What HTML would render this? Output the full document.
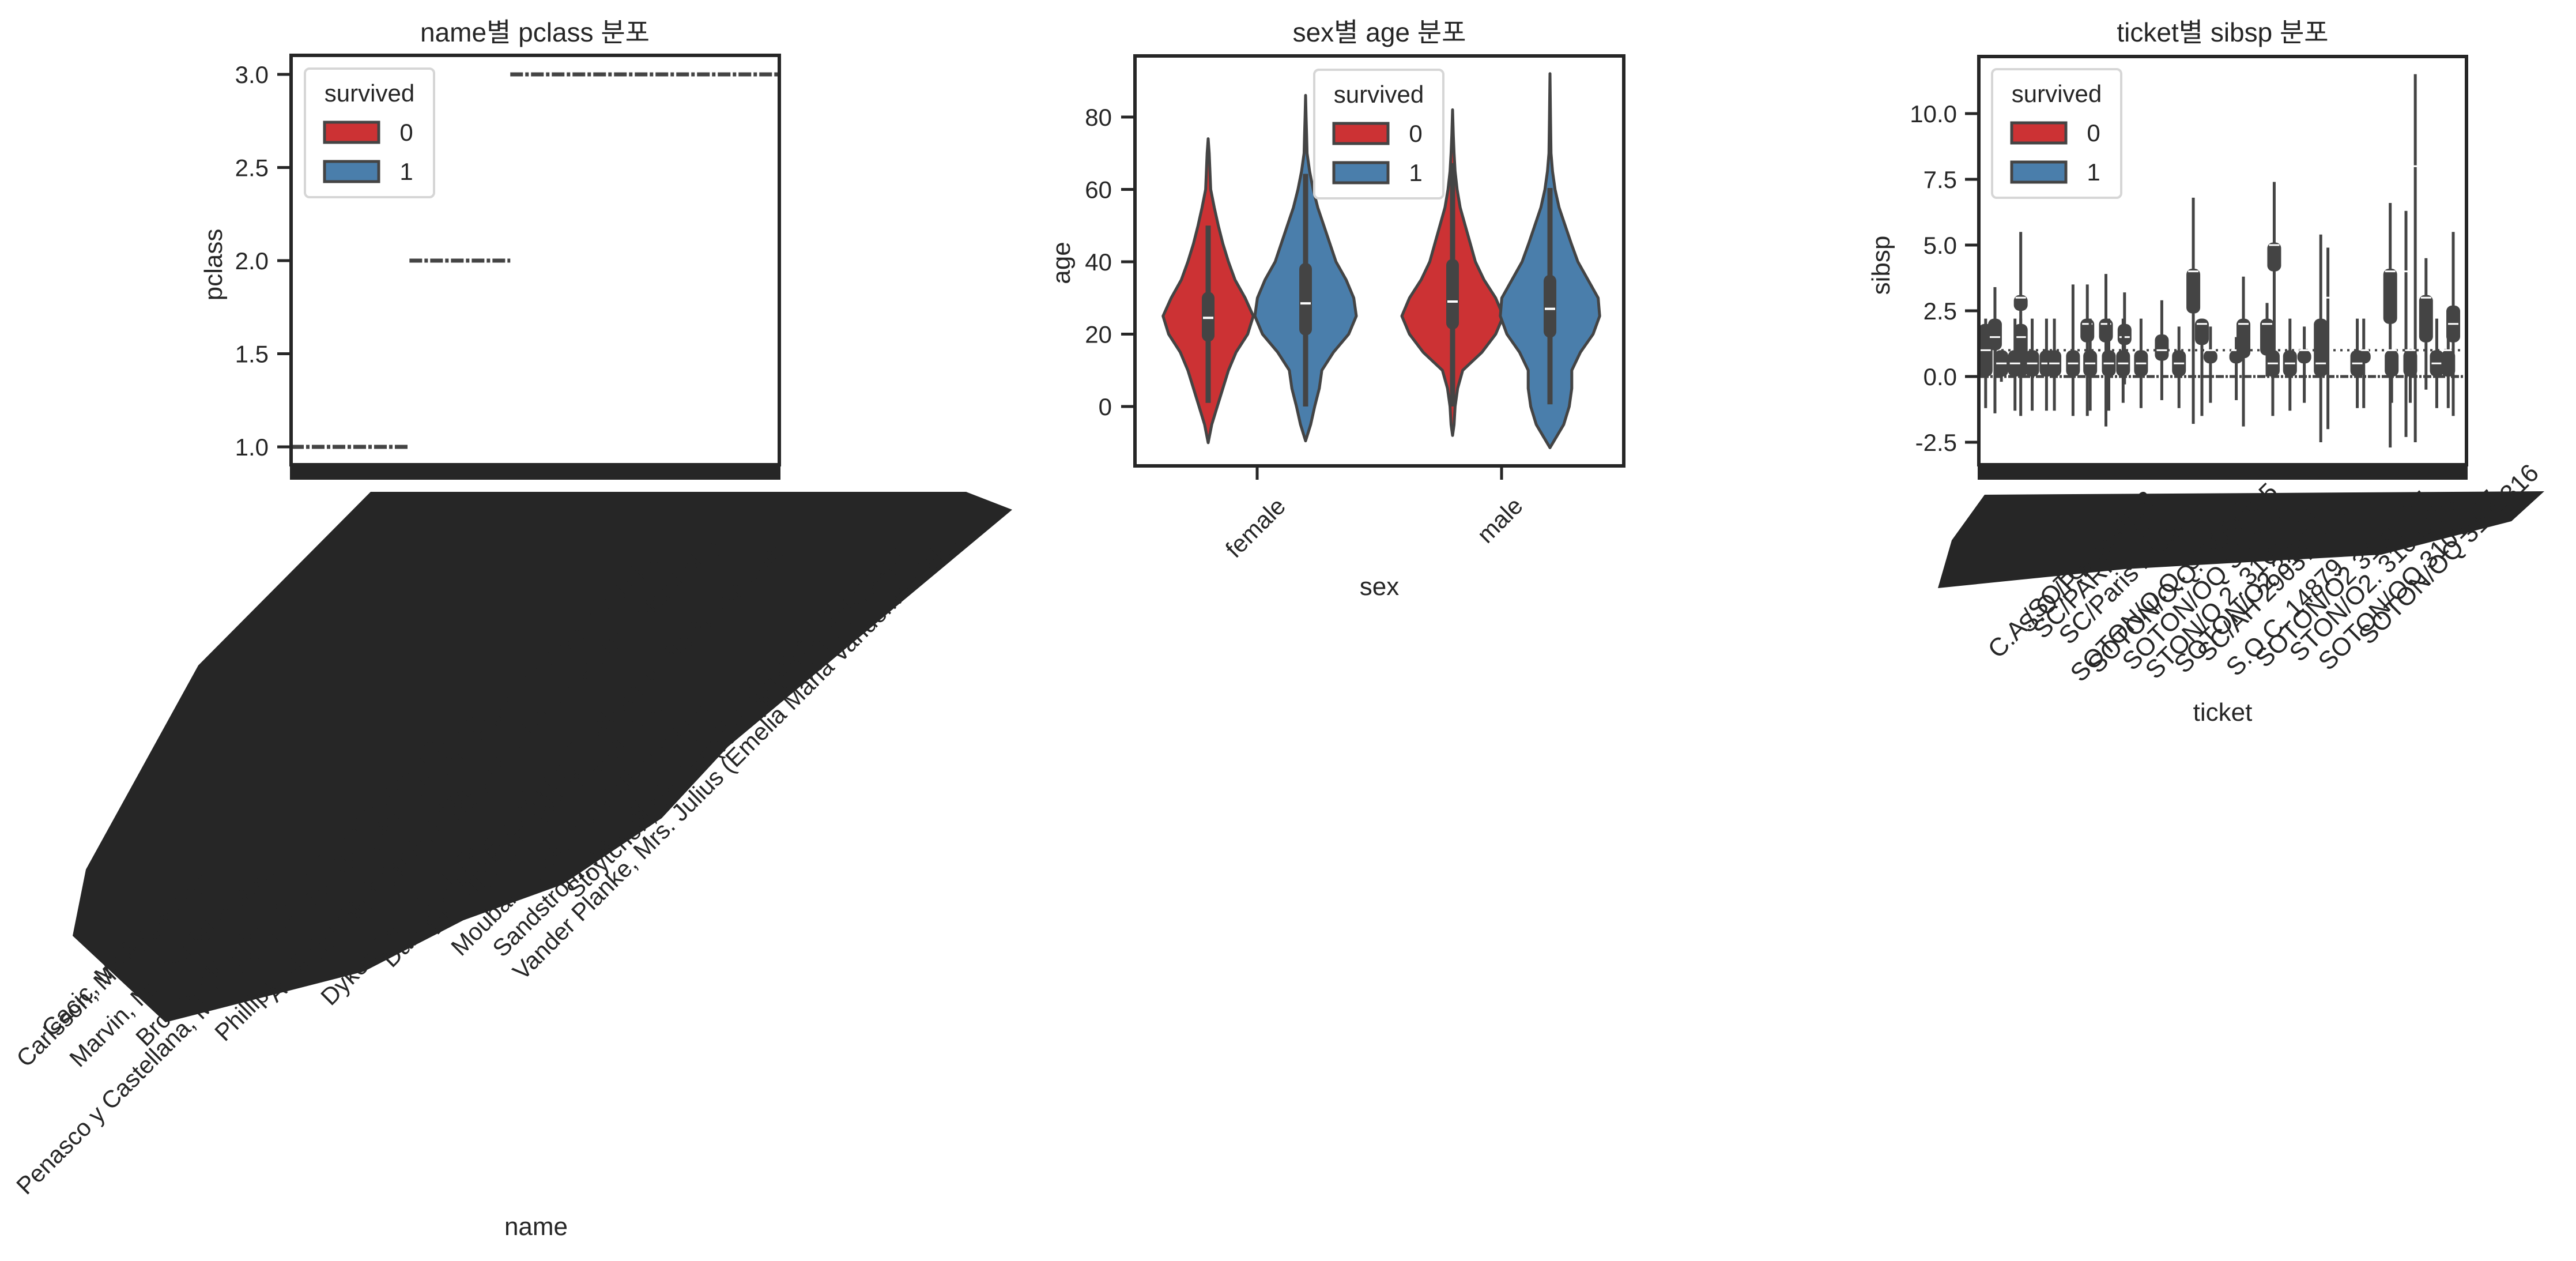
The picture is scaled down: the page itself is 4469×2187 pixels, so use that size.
<!DOCTYPE html>
<html><head><meta charset="utf-8">
<style>
html,body{margin:0;padding:0;background:#fff;}
svg{display:block;font-family:"Liberation Sans","Noto Sans CJK KR",sans-serif;}
</style></head>
<body>
<svg id="fig" width="4469" height="2187" viewBox="0 0 4469 2187" xmlns="http://www.w3.org/2000/svg">
<rect width="4469" height="2187" fill="#fff"/>

<!-- ============ PANEL 1 ============ -->
<g>
  <text x="928" y="72" font-size="46" text-anchor="middle" fill="#262626">name별 pclass 분포</text>
  <g id="p1marks"></g>
  <rect x="505" y="96" width="847" height="710" fill="none" stroke="#262626" stroke-width="6"/>
  <rect x="503" y="806" width="851" height="26" fill="#262626"/>
  <g id="p1yticks"></g>
  <text transform="translate(385,459) rotate(-90)" font-size="44" text-anchor="middle" fill="#262626">pclass</text>
  <polygon points="643,853 1676,853 1756,884 1263,1295 1148,1419 976,1534 804,1596 631,1685 459,1729 287,1773 126,1623 149,1508 344,1154" fill="#262626"/>
  <g font-size="42" fill="#262626">
    <text transform="translate(46,2074) rotate(-45)">Penasco y Castellana, Mrs. Victor de Satode (Maria Josefa Perez de Soto y Vallejo)</text>
    <text transform="translate(46,1853) rotate(-45)">Carlsson, Mr. Frans Olof</text>
    <text transform="translate(90,1800) rotate(-45)">Cacic, Mr. Luka</text>
    <text transform="translate(138,1853) rotate(-45)">Marvin, Mr. Daniel Warner</text>
    <text transform="translate(253,1817) rotate(-45)">Brown, Mrs. James Joseph (Margaret Tobin)</text>
    <text transform="translate(390,1808) rotate(-45)">Phillips, Miss. Kate Florence ("Mrs Kate Louise Phillips Marshall")</text>
    <text transform="translate(480,1740) rotate(-45)">Asplund, Miss. Lillian Gertrud</text>
    <text transform="translate(574,1746) rotate(-45)">Dyker, Mrs. Adolf Fredrik (Anna Elisabeth Judith Andersson)</text>
    <text transform="translate(680,1680) rotate(-45)">Danbom, Mr. Ernst Gilbert</text>
    <text transform="translate(758,1623) rotate(-45)">Lindell, Mr. Edvard Bengtsson</text>
    <text transform="translate(800,1660) rotate(-45)">Moubarek, Master. Halim Gonios</text>
    <text transform="translate(872,1662) rotate(-45)">Sandstrom, Mrs. Hjalmar (Agnes Charlotta Bengtsson)</text>
    <text transform="translate(907,1702) rotate(-45)">Vander Planke, Mrs. Julius (Emelia Maria Vandemoortele)</text>
    <text transform="translate(1000,1560) rotate(-45)">Stoytcheff, Mr. Ilia (Rosalie Paula Govaert)</text>
  </g>
  <text x="930" y="2142" font-size="44" text-anchor="middle" fill="#262626">name</text>
  <g id="leg1"></g>
</g>

<!-- ============ PANEL 2 ============ -->
<g>
  <text x="2393" y="72" font-size="46" text-anchor="middle" fill="#262626">sex별 age 분포</text>
  <g id="p2marks"></g>
  <rect x="1969" y="97" width="848" height="711" fill="none" stroke="#262626" stroke-width="6"/>
  <g id="p2yticks"></g>
  <g id="p2xticks"></g>
  <text transform="translate(1856,456) rotate(-90)" font-size="44" text-anchor="middle" fill="#262626">age</text>
  <text x="2393" y="1032" font-size="44" text-anchor="middle" fill="#262626">sex</text>
  <g id="leg2"></g>
</g>

<!-- ============ PANEL 3 ============ -->
<g>
  <text x="3856" y="72" font-size="46" text-anchor="middle" fill="#262626">ticket별 sibsp 분포</text>
  <g id="p3marks"></g>
  <rect x="3433" y="98" width="846" height="708" fill="none" stroke="#262626" stroke-width="6"/>
  <rect x="3431" y="806" width="850" height="26" fill="#262626"/>
  <g id="p3yticks"></g>
  <text transform="translate(3278,460) rotate(-90)" font-size="44" text-anchor="middle" fill="#262626">sibsp</text>
  <polygon points="3443,858 4414,852 4357,904 4131,962 3686,987 3362,1020 3386,937" fill="#262626"/>
  <g font-size="44" fill="#262626">
    <text transform="translate(3467,1144) rotate(-45)">C.A./SOTON 34068</text>
    <text transform="translate(3520,1100) rotate(-45)">S.O./P.P. 3</text>
    <text transform="translate(3545,1110) rotate(-45)">SC/PARIS 2133</text>
    <text transform="translate(3590,1120) rotate(-45)">SC/Paris 2123</text>
    <text transform="translate(3610,1185) rotate(-45)">SOTON/O.Q. 392087</text>
    <text transform="translate(3640,1170) rotate(-45)">SOTON/O.Q. 3101305</text>
    <text transform="translate(3700,1165) rotate(-45)">SOTON/OQ 392082</text>
    <text transform="translate(3740,1180) rotate(-45)">STON/O 2. 3101294</text>
    <text transform="translate(3790,1170) rotate(-45)">SOTON/O2 3101272</text>
    <text transform="translate(3830,1150) rotate(-45)">SC/AH 29037</text>
    <text transform="translate(3880,1175) rotate(-45)">S.O.C. 14879</text>
    <text transform="translate(3930,1160) rotate(-45)">SOTON/O2 3101287</text>
    <text transform="translate(3990,1150) rotate(-45)">STON/O2. 3101279</text>
    <text transform="translate(4040,1165) rotate(-45)">SOTON/OQ 3101317</text>
    <text transform="translate(4110,1120) rotate(-45)">SOTON/OQ 3101316</text>
  </g>
  <text x="3856" y="1250" font-size="44" text-anchor="middle" fill="#262626">ticket</text>
  <g id="leg3"></g>
</g>
</svg>

<script>
// ---------- Panel 1 data ----------
const p1Classes = [1, 2, 3];
const p1Counts = [216, 184, 491];
const p1Ticks = [1.0, 1.5, 2.0, 2.5, 3.0];
const p1TickLabels = ["1.0", "1.5", "2.0", "2.5", "3.0"];

// ---------- Panel 2 data ----------
const p2Categories = ["female", "male"];
const p2Hues = [0, 1];
const p2Ticks = [0, 20, 40, 60, 80];
const agesF0 = [-10,-5,0,5,10,15,20,25,30,35,40,45,50,55,60,65,70,74];
const densF0 = [0,0.07,0.18,0.29,0.4,0.55,0.78,0.89,0.73,0.53,0.4,0.29,0.2,0.12,0.05,0.035,0.02,0];
const agesF1 = [-9.5,-5,0,5,10,15,20,25,30,35,40,45,50,55,60,65,70,75,80,86];
const densF1 = [0,0.1,0.18,0.27,0.32,0.55,0.85,1.0,0.95,0.8,0.6,0.48,0.36,0.24,0.15,0.08,0.03,0.02,0.01,0];
const agesM0 = [-8,-5,0,5,10,15,20,25,30,35,40,45,50,55,60,65,70,75,82];
const densM0 = [0,0.03,0.05,0.1,0.2,0.58,0.85,1.0,0.85,0.62,0.45,0.35,0.25,0.15,0.09,0.05,0.03,0.015,0];
const agesM1 = [-11.4,-5,0,5,10,15,20,25,30,35,40,45,50,55,60,65,70,80,92];
const densM1 = [0,0.27,0.38,0.43,0.43,0.6,0.85,0.98,0.95,0.75,0.55,0.42,0.3,0.18,0.1,0.05,0.02,0.01,0];
const boxLo = [1, 0, 0, 0.6];
const boxQ1 = [17.9, 19.6, 21.3, 19];
const boxMed = [24.5, 28.5, 29, 27];
const boxQ3 = [31.7, 39.7, 40.8, 36.4];
const boxHi = [50, 64.3, 67.3, 60.4];

// ---------- Panel 3 data ----------
const p3Ticks = [-2.5, 0, 2.5, 5, 7.5, 10];
const p3TickLabels = ["-2.5", "0.0", "2.5", "5.0", "7.5", "10.0"];
const ticketIdx = [9,22,31,58,58,50,74,94,105,131,151,155,177,181,203,201,226,255,279,299,311,323,359,369,402,412,410,434,454,477,487,537,528,574,576,596,609,602,624,639,655,662];
const tQ1 =  [0,1.0,0,2.5,0,0,0,0,0,0,1.3,0,1.3,0,1.2,0,0,0.6,0,2.4,1.2,0.5,0.5,0.7,0.8,4.0,0,0,0.5,0,3,0.5,0,2.0,0,4,8,0,1.3,0,0,1.3];
const tQ3 =  [2,2.2,1,3.1,2,1,1,1,1,1,2.2,1,2.2,1,2.0,1,1,1.6,1,4.1,2.2,1,1,2.2,2.2,5.1,1,1,1,2.2,3,1,1,4.1,1,4,8,1,3.1,1,1,2.7];
const tMed = [1,1.5,0.5,3,1.5,0.5,0.5,0.5,0.5,0.5,2,0.5,2,0.5,1.5,0.5,0.5,1,0.5,4,2,1,1,2,2,5,0.5,0.5,1,0.5,3,1,0.5,4,1,4,8,1,3,0.5,1,2];
const tLo =  [-1.2,-1.4,-0.2,0,-1.5,-1.3,-1.3,-1.3,-1.3,-1.5,-1.5,-1.3,-1.9,-1.3,-0.3,-1,-1.2,-0.9,-1.2,-1.8,-1.5,-1,-0.9,-1.9,0,0,-1.5,-1.3,-1,-2.5,-2.0,-1.2,-1.2,-2.7,-1,-2.3,-2.5,-1,-0.5,-1.2,-1.2,-1.5];
const tHi =  [2.2,3.4,1.0,5.5,2.2,2.2,2.2,2.2,2.2,3.5,3.5,2.2,3.9,2.2,3.2,2.2,2.2,2.9,1.9,6.8,2.2,1.9,1.5,3.8,2.8,7.4,1,2.2,1.9,5.4,4.9,2.2,2.2,6.6,1,6.3,11.5,1,4.5,2.2,2.2,5.5];

const NS = "http://www.w3.org/2000/svg";
const RED = "#cc3234", BLUE = "#4a7eab", EDGE = "#444444", INK = "#262626";
function mk(tag, attrs, parent) {
  const e = document.createElementNS(NS, tag);
  for (const k in attrs) e.setAttribute(k, attrs[k]);
  parent.appendChild(e);
  return e;
}

// ---------- axes functions ----------
const y1 = v => 775 - (v - 1) * 323;
const x1 = i => 505 + i * 847 / 891;
const y2 = a => 705 - a * 6.275;
const x2 = (c, h) => [2096, 2265, 2520, 2689][c * 2 + h];
const y3 = v => 653 - v * 45.6;
const x3 = i => 3433 + (i + 0.5) * 846 / 681;

// ---------- panel 1 ----------
const p1m = document.getElementById('p1marks');
let start = 0;
p1Classes.forEach((c, i) => {
  const l = mk('line', {x1: x1(start), x2: x1(start + p1Counts[i]), y1: y1(c), y2: y1(c), stroke: EDGE, 'stroke-width': 7, 'stroke-dasharray': '22 4 6 4'}, p1m);
  
  
  start += p1Counts[i];
});
const p1t = document.getElementById('p1yticks');
p1Ticks.forEach((t, i) => {
  const l = mk('line', {x1: 481, x2: 505, y1: y1(t), y2: y1(t), stroke: INK, 'stroke-width': 5}, p1t);
  
  
  const tx = mk('text', {x: 466, y: y1(t) + 15, 'font-size': 42, 'text-anchor': 'end', fill: INK}, p1t);
  tx.textContent = p1TickLabels[i];
  
  
});

// ---------- panel 2 ----------
const p2m = document.getElementById('p2marks');
const groups = [[agesF0, densF0], [agesF1, densF1], [agesM0, densM0], [agesM1, densM1]];
const HW = 88;
groups.forEach((g, gi) => {
  const c = Math.floor(gi / 2), h = gi % 2;
  const cx = x2(c, h);
  const ages = g[0], dens = g[1];
  let pts = [];
  for (let k = 0; k < ages.length; k++) pts.push((cx + dens[k] * HW).toFixed(1) + ',' + y2(ages[k]).toFixed(1));
  for (let k = ages.length - 1; k >= 0; k--) pts.push((cx - dens[k] * HW).toFixed(1) + ',' + y2(ages[k]).toFixed(1));
  const p = mk('polygon', {points: pts.join(' '), fill: h ? BLUE : RED, stroke: EDGE, 'stroke-width': 5, 'stroke-linejoin': 'round'}, p2m);
  
  
  const wl = mk('line', {x1: cx, x2: cx, y1: y2(boxLo[gi]), y2: y2(boxHi[gi]), stroke: EDGE, 'stroke-width': 9}, p2m);
  
  
  const bx = mk('rect', {x: cx - 11, y: y2(boxQ3[gi]), width: 22, height: y2(boxQ1[gi]) - y2(boxQ3[gi]), rx: 11, fill: EDGE}, p2m);
  
  
  const md = mk('line', {x1: cx - 9, x2: cx + 9, y1: y2(boxMed[gi]), y2: y2(boxMed[gi]), stroke: '#fff', 'stroke-width': 4}, p2m);
  
  
});
const p2t = document.getElementById('p2yticks');
p2Ticks.forEach(t => {
  const l = mk('line', {x1: 1945, x2: 1969, y1: y2(t), y2: y2(t), stroke: INK, 'stroke-width': 5}, p2t);
  
  
  const tx = mk('text', {x: 1929, y: y2(t) + 15, 'font-size': 42, 'text-anchor': 'end', fill: INK}, p2t);
  tx.textContent = String(t);
  
  
});
const p2x = document.getElementById('p2xticks');
const xc2 = [2181, 2605];
p2Categories.forEach((c, i) => {
  const l = mk('line', {x1: xc2[i], x2: xc2[i], y1: 808, y2: 832, stroke: INK, 'stroke-width': 5}, p2x);
  
  
  const tx = mk('text', {transform: `translate(${xc2[i] - 3},${i ? 902 : 915}) rotate(-45)`, 'font-size': 42, 'text-anchor': 'middle', 'dominant-baseline': 'central', fill: INK}, p2x);
  tx.textContent = c;
  
  
});

// ---------- panel 3 ----------
const p3m = document.getElementById('p3marks');
const l0 = mk('line', {x1: 3436, x2: 4276, y1: y3(0), y2: y3(0), stroke: EDGE, 'stroke-width': 5, 'stroke-dasharray': '14 3 4 3'}, p3m);


const l1 = mk('line', {x1: 3436, x2: 4276, y1: y3(1), y2: y3(1), stroke: EDGE, 'stroke-width': 4, 'stroke-dasharray': '4 8'}, p3m);


ticketIdx.forEach((ti, i) => {
  const cx = x3(ti);
  const w = mk('line', {x1: cx, x2: cx, y1: y3(tLo[i]), y2: y3(tHi[i]), stroke: EDGE, 'stroke-width': 5}, p3m);
  
  
  if (tQ3[i] > tQ1[i]) {
    const b = mk('rect', {x: cx - 12, y: y3(tQ3[i]), width: 24, height: y3(tQ1[i]) - y3(tQ3[i]), rx: 10, fill: EDGE}, p3m);
    
    
  }
  const m = mk('line', {x1: cx - 9, x2: cx + 9, y1: y3(tMed[i]), y2: y3(tMed[i]), stroke: '#fff', 'stroke-width': 3}, p3m);
  
  
});
const p3t = document.getElementById('p3yticks');
p3Ticks.forEach((t, i) => {
  const l = mk('line', {x1: 3409, x2: 3433, y1: y3(t), y2: y3(t), stroke: INK, 'stroke-width': 5}, p3t);
  
  
  const tx = mk('text', {x: 3395, y: y3(t) + 15, 'font-size': 42, 'text-anchor': 'end', fill: INK}, p3t);
  tx.textContent = p3TickLabels[i];
  
  
});

// ---------- legends ----------
function legend(id, bx, by) {
  const g = document.getElementById(id);
  const r = mk('rect', {x: bx, y: by, width: 224, height: 223, rx: 8, fill: '#fff', stroke: '#d6d6d6', 'stroke-width': 4}, g);
  
  
  const t = mk('text', {x: bx + 112, y: by + 57, 'font-size': 42, 'text-anchor': 'middle', fill: INK}, g);
  t.textContent = 'survived';
  
  
  ['0', '1'].forEach((lab, i) => {
    const p = mk('rect', {x: bx + 34, y: by + 93 + i * 68, width: 94, height: 35, fill: i ? BLUE : RED, stroke: EDGE, 'stroke-width': 5}, g);
    
    
    const tx = mk('text', {x: bx + 176, y: by + 125 + i * 68, 'font-size': 42, 'text-anchor': 'middle', fill: INK}, g);
    tx.textContent = lab;
    
    
  });
}
legend('leg1', 529, 119);
legend('leg2', 2280, 121);
legend('leg3', 3456, 120);
</script>
</body></html>
